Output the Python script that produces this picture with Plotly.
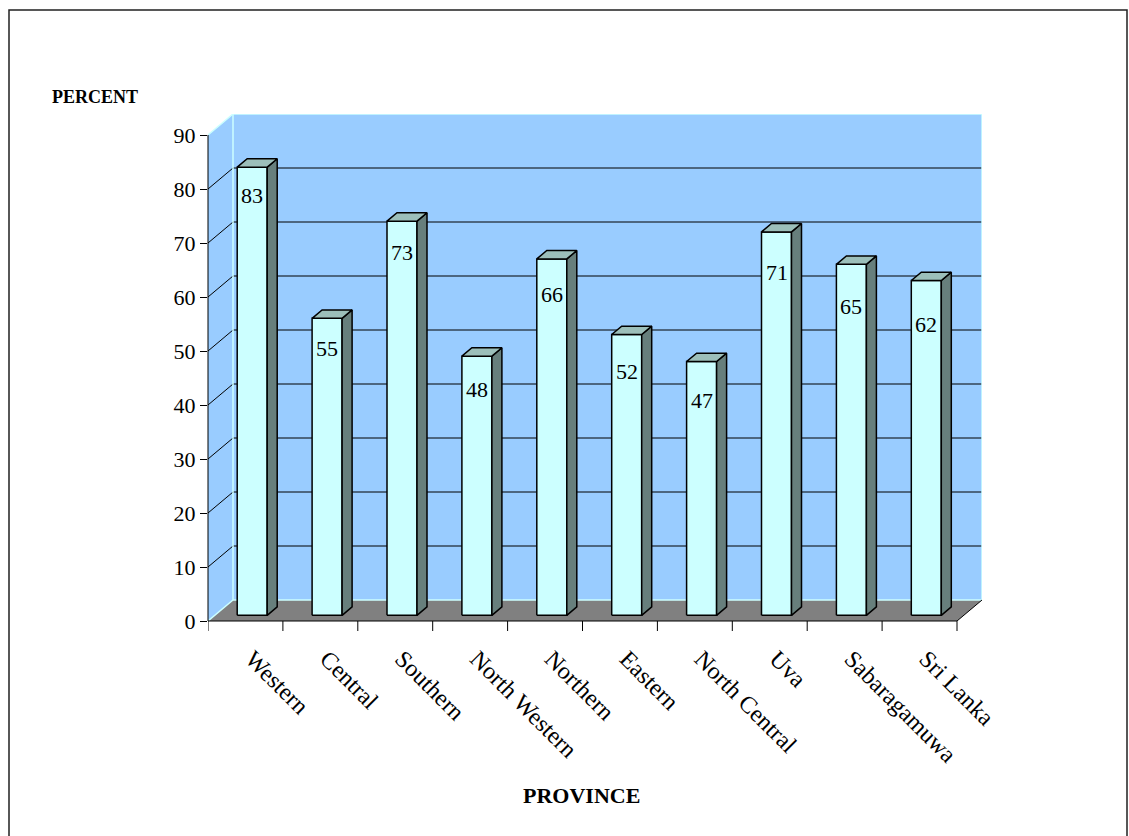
import plotly.graph_objects as go

# ---------------- data ----------------
provinces = ["Western", "Central", "Southern", "North Western", "Northern",
             "Eastern", "North Central", "Uva", "Sabaragamuwa", "Sri Lanka"]
percent = [83, 55, 73, 48, 66, 52, 47, 71, 65, 62]
y_ticks = [0, 10, 20, 30, 40, 50, 60, 70, 80, 90]
y_title = "PERCENT"
x_title = "PROVINCE"

# ---------------- geometry / style ----------------
W, H = 1129, 836
L_PX, R_PX, T_PX, B_PX = 208, 982, 114, 621
PX_PER_CAT = 74.9
PX_PER_UNIT = 5.4
DEPTH_X_PX, DEPTH_Y_PX = 25, 21
DXU = DEPTH_X_PX / PX_PER_CAT        # depth in x data units
DYU = DEPTH_Y_PX / PX_PER_UNIT       # depth in y data units
F0, F1 = 0.27, 0.67                  # bar front/back position inside depth
HALF_W = 15 / PX_PER_CAT             # half bar width (x units)
YMAX = max(y_ticks)
n = len(provinces)

WALL = "#99CCFF"
EDGE = "#CCFFFF"
FLOOR = "#808080"
FRONT = "#CCFFFF"
SIDE = "#677F7C"
TOP = "#9CBFBA"
FONT = "Liberation Serif"

fig = go.Figure()

# ---------------- bars (3 faces each) ----------------
def face(xs, ys, color):
    fig.add_trace(go.Scatter(
        x=xs + [xs[0]], y=ys + [ys[0]], mode="lines", fill="toself",
        fillcolor=color, line=dict(color="black", width=1.5),
        hoverinfo="skip", showlegend=False))

ddx = (F1 - F0) * DXU
ddy = (F1 - F0) * DYU
for i, v in enumerate(percent):
    cx = i + F0 * DXU
    x0, x1 = cx - HALF_W, cx + HALF_W
    yb = F0 * DYU
    yt = v + F0 * DYU
    face([x0, x1, x1, x0], [yb, yb, yt, yt], FRONT)
    face([x1, x1 + ddx, x1 + ddx, x1], [yb, yb + ddy, yt + ddy, yt], SIDE)
    face([x0, x1, x1 + ddx, x0 + ddx], [yt, yt, yt + ddy, yt + ddy], TOP)

# ---------------- walls, floor, gridlines ----------------
shapes = []
xl, xr = -0.5, n - 0.5
shapes.append(dict(type="path", xref="x", yref="y", layer="below",
                   path=f"M{xl},0 L{xl},{YMAX} L{xl+DXU},{YMAX+DYU} L{xl+DXU},{DYU} Z",
                   fillcolor=WALL, line=dict(width=0)))
shapes.append(dict(type="rect", xref="x", yref="y", layer="below",
                   x0=xl + DXU, x1=xr + DXU, y0=DYU, y1=YMAX + DYU,
                   fillcolor=WALL, line=dict(width=0)))
shapes.append(dict(type="path", xref="x", yref="y", layer="below",
                   path=f"M{xl},0 L{xr},0 L{xr+DXU},{DYU} L{xl+DXU},{DYU} Z",
                   fillcolor=FLOOR, line=dict(width=0)))
for t in y_ticks:
    if t == 0 or t == YMAX:
        continue
    shapes.append(dict(type="line", xref="x", yref="y", layer="below",
                       x0=xl + DXU, x1=xr + DXU, y0=t + DYU, y1=t + DYU,
                       line=dict(color="black", width=1)))
    shapes.append(dict(type="line", xref="x", yref="y", layer="below",
                       x0=xl, x1=xl + DXU, y0=t, y1=t + DYU,
                       line=dict(color="black", width=1)))
for (ax, ay, bx, by) in [
        (xl, YMAX, xl + DXU, YMAX + DYU),
        (xl + DXU, YMAX + DYU, xr + DXU, YMAX + DYU),
        (xl + DXU, DYU, xl + DXU, YMAX + DYU),
        (xr + DXU, DYU, xr + DXU, YMAX + DYU),
        (xl, 0, xl + DXU, DYU),
        (xl + DXU, DYU, xr + DXU, DYU)]:
    shapes.append(dict(type="line", xref="x", yref="y", layer="below",
                       x0=ax, y0=ay, x1=bx, y1=by,
                       line=dict(color=EDGE, width=1.5)))
shapes.append(dict(type="line", xref="x", yref="y", layer="below",
                   x0=xr, y0=0, x1=xr + DXU, y1=DYU,
                   line=dict(color="black", width=1)))
shapes.append(dict(type="line", xref="paper", yref="y", x0=0, x1=0, y0=0, y1=YMAX,
                   line=dict(color="black", width=1)))
shapes.append(dict(type="line", xref="x", yref="paper", x0=xl, x1=xr, y0=0, y1=0,
                   line=dict(color="black", width=1)))
plot_h = B_PX - T_PX
for k in range(n + 1):
    shapes.append(dict(type="line", xref="x", yref="paper", x0=xl + k, x1=xl + k,
                       y0=0, y1=-10 / plot_h, line=dict(color="black", width=1)))
plot_w = R_PX - L_PX
shapes.append(dict(type="rect", xref="paper", yref="paper",
                   x0=(9 - L_PX) / plot_w, x1=(1127 - L_PX) / plot_w,
                   y0=(B_PX - 845) / plot_h, y1=(B_PX - 10) / plot_h,
                   line=dict(color="#202020", width=1.5), fillcolor="rgba(0,0,0,0)"))

# ---------------- annotations ----------------
annotations = []
for i, v in enumerate(percent):
    annotations.append(dict(x=i + F0 * DXU, y=v + F0 * DYU, xref="x", yref="y",
                            text=str(v), showarrow=False,
                            xanchor="center", yanchor="middle",
                            yshift=-(28 + 1.8 * i),
                            font=dict(family=FONT, size=22, color="black")))
annotations.append(dict(x=(95 - L_PX) / plot_w, y=(B_PX - 97) / plot_h,
                        xref="paper", yref="paper", text=f"<b>{y_title}</b>",
                        xanchor="center", yanchor="middle",
                        showarrow=False, font=dict(family=FONT, size=18, color="black")))
annotations.append(dict(x=(581 - L_PX) / plot_w, y=(B_PX - 795) / plot_h,
                        xref="paper", yref="paper", text=f"<b>{x_title}</b>",
                        xanchor="center", yanchor="middle",
                        showarrow=False, font=dict(family=FONT, size=22, color="black")))

fig.update_layout(
    width=W, height=H,
    margin=dict(l=L_PX, r=W - R_PX, t=T_PX, b=H - B_PX),
    paper_bgcolor="white", plot_bgcolor="rgba(0,0,0,0)",
    shapes=shapes, annotations=annotations, showlegend=False,
    xaxis=dict(range=[xl, xr + DXU], tickmode="array",
               tickvals=[i + F0 * DXU for i in range(n)], ticktext=provinces,
               tickangle=45, ticks="", showgrid=False, zeroline=False,
               showline=False, ticklabelstandoff=18,
               tickfont=dict(family=FONT, size=24, color="black"), fixedrange=True),
    yaxis=dict(range=[0, YMAX + DYU], tickmode="array", tickvals=y_ticks,
               ticks="outside", ticklen=7, tickcolor="black", tickwidth=1,
               showgrid=False, zeroline=False, showline=False,
               tickfont=dict(family=FONT, size=22, color="black"), fixedrange=True),
)

fig.write_html("out.html")
